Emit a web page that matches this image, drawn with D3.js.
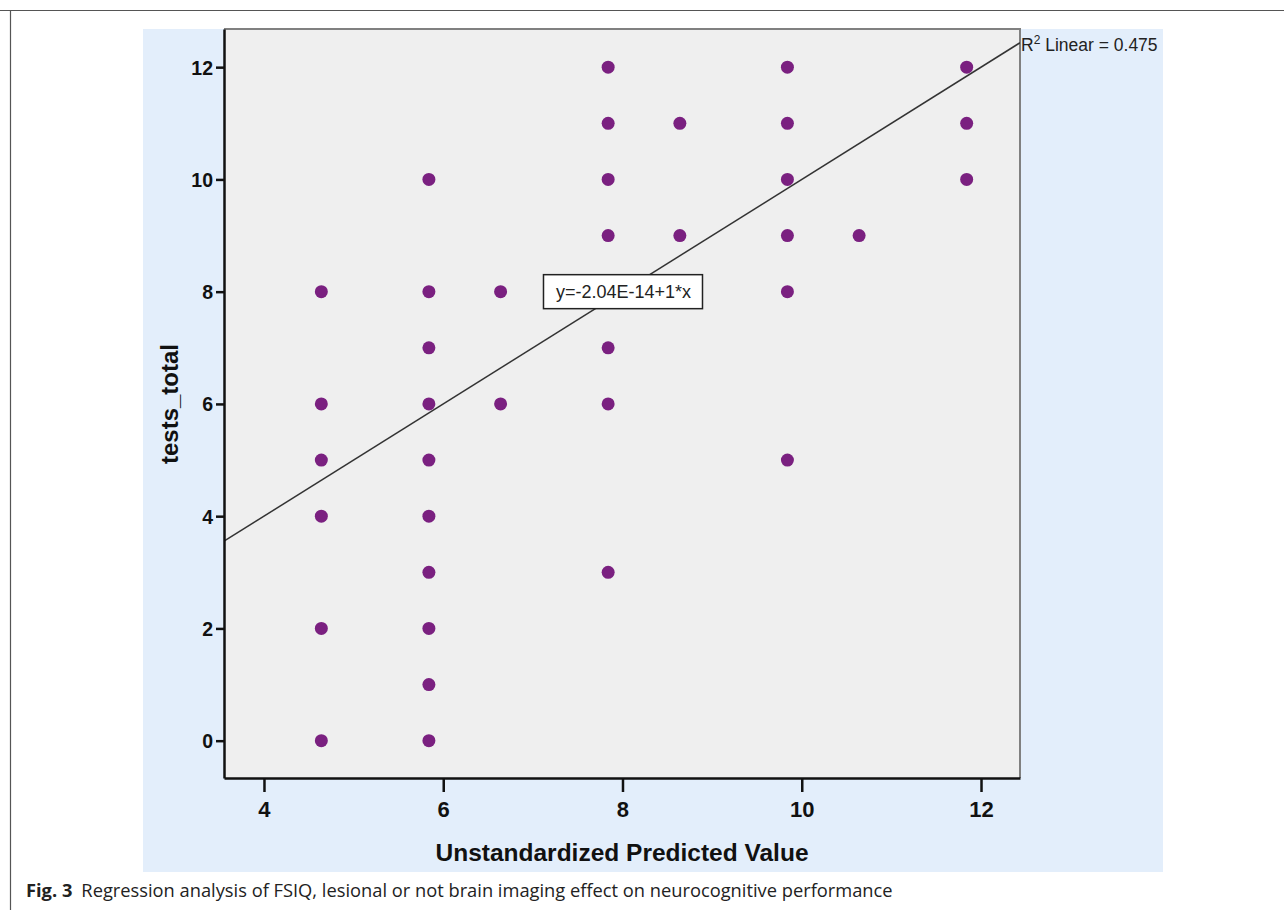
<!DOCTYPE html>
<html>
<head>
<meta charset="utf-8">
<script src="https://cdn.jsdelivr.net/npm/d3@7"></script>
<style>
  body { margin: 0; background: #fff; }
</style>
</head>
<body>
<div id="chart"></div>
<script>
// predicted value (x) and tests_total (y) for each dot
var xLevels = [4.64, 5.84, 6.64, 7.84, 8.64, 9.84, 10.64, 11.84];
var yAt464 = [8, 6, 5, 4, 2, 0];
var yAt584 = [10, 8, 7, 6, 5, 4, 3, 2, 1, 0];
var yAt664 = [8, 6];
var yAt784 = [12, 11, 10, 9, 7, 6, 3];
var yAt864 = [11, 9];
var yAt984 = [12, 11, 10, 9, 8, 5];
var yAt1064 = [9];
var yAt1184 = [12, 11, 10];
var xTicks = [4, 6, 8, 10, 12];
var yTicks = [0, 2, 4, 6, 8, 10, 12];
var fit = { intercept: -2.04e-14, slope: 1 };

var groups = [yAt464, yAt584, yAt664, yAt784, yAt864, yAt984, yAt1064, yAt1184];
var points = [];
groups.forEach(function(ys, i) {
  ys.forEach(function(y) { points.push({ x: xLevels[i], y: y }); });
});

var W = 1284, H = 910;
var plot = { left: 224, top: 29, right: 1020, bottom: 778 };
var sans = '"Liberation Sans", Arial, sans-serif';

var svg = d3.select('#chart').append('svg').attr('width', W).attr('height', H);

// page frame
svg.append('line').attr('x1', 0).attr('x2', W).attr('y1', 10.5).attr('y2', 10.5)
  .attr('stroke', '#555').attr('stroke-width', 1.2);
svg.append('line').attr('x1', 10.5).attr('x2', 10.5).attr('y1', 10).attr('y2', H)
  .attr('stroke', '#555').attr('stroke-width', 1.2);

// light blue chart background
svg.append('rect').attr('x', 143).attr('y', 29).attr('width', 1163 - 143).attr('height', 872 - 29)
  .attr('fill', '#e3eefb');

var x = d3.scaleLinear().domain([3.554, 12.435]).range([plot.left, plot.right]);
var y = d3.scaleLinear().domain([-0.665, 12.68]).range([plot.bottom, plot.top]);

svg.append('rect').attr('x', plot.left).attr('y', plot.top)
  .attr('width', plot.right - plot.left).attr('height', plot.bottom - plot.top)
  .attr('fill', '#efefef');

// top and right border (grey)
svg.append('path')
  .attr('d', 'M' + plot.left + ',' + plot.top + 'H' + plot.right + 'V' + plot.bottom)
  .attr('fill', 'none').attr('stroke', '#808080').attr('stroke-width', 2);

svg.append('clipPath').attr('id', 'clip').append('rect')
  .attr('x', plot.left).attr('y', plot.top)
  .attr('width', plot.right - plot.left).attr('height', plot.bottom - plot.top);

// fit line
var dom = x.domain();
svg.append('line').attr('clip-path', 'url(#clip)')
  .attr('x1', x(dom[0])).attr('y1', y(fit.intercept + fit.slope * dom[0]))
  .attr('x2', x(dom[1])).attr('y2', y(fit.intercept + fit.slope * dom[1]))
  .attr('stroke', '#333').attr('stroke-width', 1.5);

svg.selectAll('circle.pt').data(points).enter().append('circle')
  .attr('class', 'pt')
  .attr('cx', function(d) { return x(d.x); })
  .attr('cy', function(d) { return y(d.y); })
  .attr('r', 6.5)
  .attr('fill', '#7a2080');

// axes
var yAxis = svg.append('g').attr('transform', 'translate(' + plot.left + ',0)')
  .call(d3.axisLeft(y).tickValues(yTicks).tickSize(8).tickSizeOuter(0).tickPadding(3).tickFormat(d3.format('d')));
var xAxis = svg.append('g').attr('transform', 'translate(0,' + plot.bottom + ')')
  .call(d3.axisBottom(x).tickValues(xTicks).tickSize(14).tickSizeOuter(0).tickPadding(9).tickFormat(d3.format('d')));

[xAxis, yAxis].forEach(function(g) {
  g.select('.domain').attr('stroke', '#111').attr('stroke-width', 2.5);
  g.selectAll('.tick line').attr('stroke', '#111').attr('stroke-width', 2.5);
  g.selectAll('.tick text').attr('fill', '#111')
    .style('font-family', sans)
    .style('font-weight', 'bold');
});
yAxis.selectAll('.tick text').attr('dy', '0.36em').style('font-size', '19.5px');
xAxis.selectAll('.tick text').style('font-size', '22px');

// axis titles
svg.append('text').attr('transform', 'translate(178,404) rotate(-90)')
  .attr('text-anchor', 'middle')
  .style('font-family', sans)
  .style('font-weight', 'bold').style('font-size', '24px').attr('fill', '#111')
  .text('tests_total');
svg.append('text').attr('x', 622).attr('y', 861)
  .attr('text-anchor', 'middle')
  .style('font-family', sans)
  .style('font-weight', 'bold').style('font-size', '24.5px').attr('fill', '#111')
  .text('Unstandardized Predicted Value');

// R2 label
var r2 = svg.append('text').attr('x', 1021).attr('y', 51)
  .style('font-family', sans)
  .style('font-size', '17.5px').attr('fill', '#222');
r2.append('tspan').text('R');
r2.append('tspan').attr('dy', -7).style('font-size', '12px').text('2');
r2.append('tspan').attr('dy', 7).text(' Linear = 0.475');

// equation box
var eq = svg.append('g').attr('transform', 'translate(' + x(8) + ',' + y(8) + ')');
eq.append('rect').attr('x', -79).attr('y', -17).attr('width', 159).attr('height', 34)
  .attr('fill', '#fff').attr('stroke', '#222').attr('stroke-width', 1.5);
eq.append('text').attr('x', 1).attr('y', 6.5).attr('text-anchor', 'middle')
  .style('font-family', sans)
  .style('font-size', '18px').attr('fill', '#222')
  .text('y=-2.04E-14+1*x');

// caption
var cap = svg.append('text').attr('x', 26).attr('y', 897)
  .style('font-family', '"Open Sans", sans-serif').style('font-size', '18.3px').attr('fill', '#222');
cap.append('tspan').style('font-weight', 'bold').text('Fig. 3');
cap.append('tspan').attr('dx', 9).text('Regression analysis of FSIQ, lesional or not brain imaging effect on neurocognitive performance');
</script>
</body>
</html>
